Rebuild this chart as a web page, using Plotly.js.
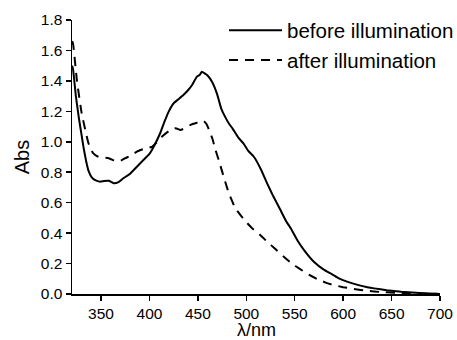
<!DOCTYPE html>
<html>
<head>
<meta charset="utf-8">
<script src="https://cdn.plot.ly/plotly-3.0.1.min.js"></script>
<style>html,body{margin:0;padding:0;background:#fff;}#chart{width:457px;height:340px;}</style>
</head>
<body>
<div id="chart"></div>
<script>
const beforeX = [320,321,324,327,330,332,335,337,340,344,349,353,358,363,368,373,380,387,393,400,405,411,416,420,425,430,435,440,444,449,452,454,457,460,465,470,474,478,482,486,492,497,502,508,515,522,528,535,541,546,553,560,570,580,587,595,604,615,625,632,645,660,675,690,700];
const beforeY = [1.50,1.48,1.30,1.16,1.04,0.96,0.86,0.81,0.77,0.748,0.738,0.742,0.744,0.728,0.735,0.76,0.79,0.836,0.875,0.92,0.975,1.056,1.14,1.20,1.253,1.28,1.307,1.34,1.373,1.428,1.44,1.46,1.45,1.435,1.39,1.31,1.22,1.165,1.12,1.085,1.025,0.99,0.94,0.90,0.82,0.72,0.64,0.555,0.48,0.43,0.35,0.285,0.21,0.16,0.135,0.105,0.081,0.06,0.045,0.037,0.025,0.015,0.008,0.003,0.0];
const afterX = [320,321,325,330,334,337,340,342,346,351,358,366,371,375,381,387,395,403,408,413,420,427,432,437,442,449,456,459,462,465,468,471.5,476.6,482,488.7,495,501,506,514,521.5,530,538.7,547,556,565,573,582,590,600,611,625,639,660,680,700];
const afterY = [1.66,1.647,1.406,1.187,1.07,0.99,0.945,0.924,0.905,0.898,0.892,0.869,0.878,0.892,0.91,0.935,0.955,0.968,1.00,1.034,1.07,1.089,1.078,1.09,1.11,1.125,1.137,1.115,1.07,1.02,0.95,0.88,0.771,0.662,0.563,0.51,0.465,0.432,0.39,0.344,0.295,0.245,0.20,0.162,0.125,0.099,0.075,0.059,0.045,0.033,0.021,0.013,0.007,0.003,0.0];
const xTicks = [350,400,450,500,550,600,650,700];
const yTicks = [0,0.2,0.4,0.6,0.8,1.0,1.2,1.4,1.6,1.8];
const seriesNames = ['before illumination','after illumination'];
const xTitle = 'λ/nm';
const yTitle = 'Abs';

const font = 'Arial, "Liberation Sans", Helvetica, sans-serif';
const traces = [
  {x: beforeX, y: beforeY, name: seriesNames[0], type: 'scatter', mode: 'lines',
   line: {color: '#000', width: 2, shape: 'spline', smoothing: 0.4}},
  {x: afterX, y: afterY, name: seriesNames[1], type: 'scatter', mode: 'lines',
   line: {color: '#000', width: 2, dash: '9px,7px', shape: 'spline', smoothing: 0.4}}
];
const axisCommon = {
  showline: true, linecolor: '#000', linewidth: 1.5, mirror: false,
  ticks: 'outside', ticklen: 5, tickwidth: 1.5, tickcolor: '#000',
  showgrid: false, zeroline: false, automargin: false,
  tickfont: {family: font, size: 15.5, color: '#000'}
};
const layout = {
  width: 457, height: 340,
  margin: {l: 72, r: 17, t: 20, b: 46, autoexpand: false},
  paper_bgcolor: '#fff', plot_bgcolor: '#fff',
  showlegend: true,
  legend: {x: 0.413, y: 1.035, xanchor: 'left', yanchor: 'top', bgcolor: 'rgba(0,0,0,0)',
    font: {family: font, size: 20.5, color: '#000'}, itemwidth: 53, tracegroupgap: 0},
  xaxis: Object.assign({}, axisCommon, {
    range: [320, 700], tickvals: xTicks, ticktext: xTicks.map(String)
  }),
  yaxis: Object.assign({}, axisCommon, {
    range: [0, 1.8], tickvals: yTicks, ticktext: yTicks.map(v => v.toFixed(1)),
    title: {text: yTitle, font: {family: font, size: 20, color: '#000'}, standoff: 6}
  }),
  annotations: [
    {text: xTitle, xref: 'paper', yref: 'paper', x: 0.5, y: -0.133, xanchor: 'center', yanchor: 'middle',
     showarrow: false, borderpad: 0, font: {family: font, size: 18, color: '#000'}}
  ]
};
Plotly.newPlot('chart', traces, layout, {displayModeBar: false, staticPlot: true});
</script>
</body>
</html>
